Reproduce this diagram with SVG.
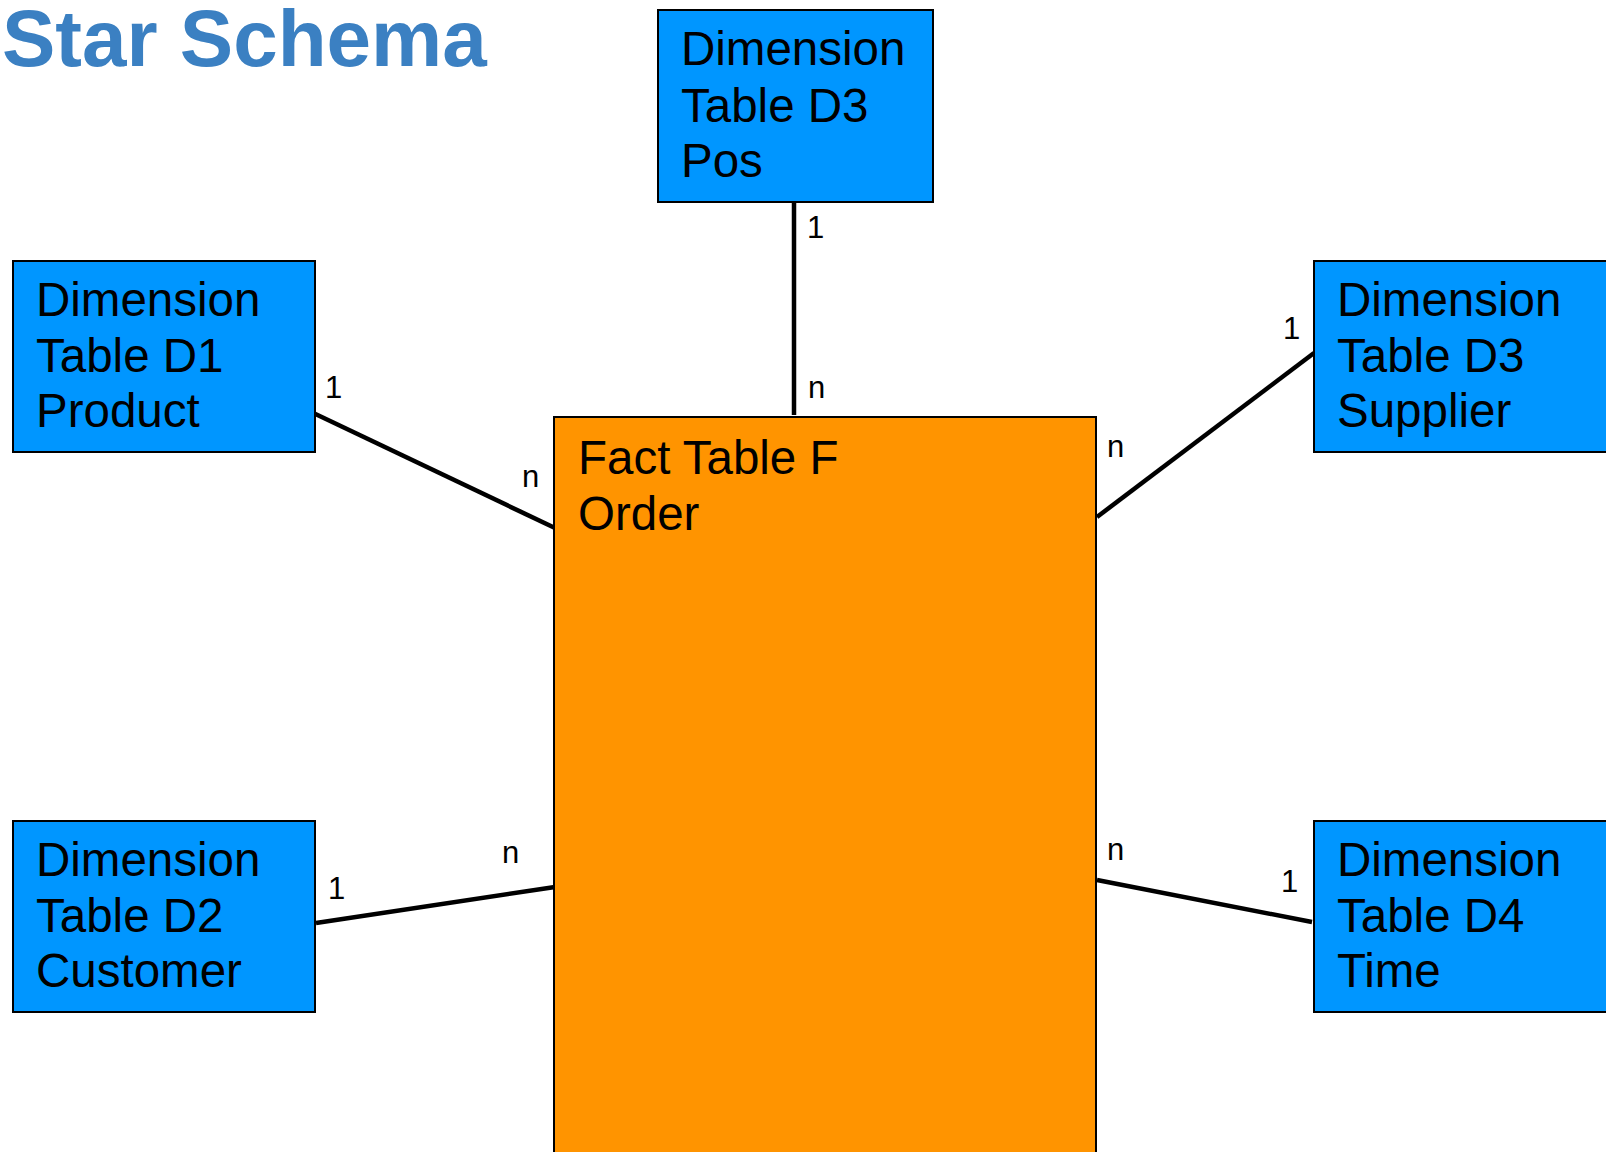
<svg xmlns="http://www.w3.org/2000/svg" width="1606" height="1152" viewBox="0 0 1606 1152">
<style>
.dim{fill:#0096FF;stroke:#000;stroke-width:2}
.fact{fill:#FF9400;stroke:#000;stroke-width:2}
.t{font-family:"Liberation Sans",Arial,Helvetica,sans-serif;font-size:47.5px;fill:#000}
.lbl{font-family:"Liberation Sans",Arial,Helvetica,sans-serif;font-size:31px;fill:#000}
.con{stroke:#000;stroke-width:4.5;fill:none}
.title{font-family:"Liberation Sans",Arial,Helvetica,sans-serif;font-size:80px;font-weight:bold;fill:#3B80C2}
</style>
<rect width="1606" height="1152" fill="#fff"/>
<text class="title" x="2" y="66">Star Schema</text>
<g id="connectors">
<line class="con" x1="794" y1="200" x2="794" y2="415"/>
<line class="con" x1="307" y1="410" x2="555" y2="528"/>
<line class="con" x1="1097" y1="517" x2="1314" y2="353"/>
<line class="con" x1="316" y1="923" x2="555" y2="887"/>
<line class="con" x1="1097" y1="880" x2="1312" y2="922"/>
<text class="lbl" x="807" y="238">1</text>
<text class="lbl" x="808" y="398">n</text>
<text class="lbl" x="325" y="398">1</text>
<text class="lbl" x="522" y="487">n</text>
<text class="lbl" x="1283" y="339">1</text>
<text class="lbl" x="1107" y="457">n</text>
<text class="lbl" x="328" y="899">1</text>
<text class="lbl" x="502" y="863">n</text>
<text class="lbl" x="1107" y="860">n</text>
<text class="lbl" x="1281" y="892">1</text>
</g>
<g id="fact">
<rect class="fact" x="554" y="417" width="542" height="760"/>
<text class="t" x="578" y="474">Fact Table F</text>
<text class="t" x="578" y="530">Order</text>
</g>
<g id="d3pos">
<rect class="dim" x="658" y="10" width="275" height="192"/>
<text class="t" x="681" y="65">Dimension</text>
<text class="t" x="681" y="122">Table D3</text>
<text class="t" x="681" y="177">Pos</text>
</g>
<g id="d1">
<rect class="dim" x="13" y="261" width="302" height="191"/>
<text class="t" x="36" y="316">Dimension</text>
<text class="t" x="36" y="372">Table D1</text>
<text class="t" x="36" y="427">Product</text>
</g>
<g id="d3supplier">
<rect class="dim" x="1314" y="261" width="302" height="191"/>
<text class="t" x="1337" y="316">Dimension</text>
<text class="t" x="1337" y="372">Table D3</text>
<text class="t" x="1337" y="427">Supplier</text>
</g>
<g id="d2">
<rect class="dim" x="13" y="821" width="302" height="191"/>
<text class="t" x="36" y="876">Dimension</text>
<text class="t" x="36" y="932">Table D2</text>
<text class="t" x="36" y="987">Customer</text>
</g>
<g id="d4">
<rect class="dim" x="1314" y="821" width="302" height="191"/>
<text class="t" x="1337" y="876">Dimension</text>
<text class="t" x="1337" y="932">Table D4</text>
<text class="t" x="1337" y="987">Time</text>
</g>
</svg>
